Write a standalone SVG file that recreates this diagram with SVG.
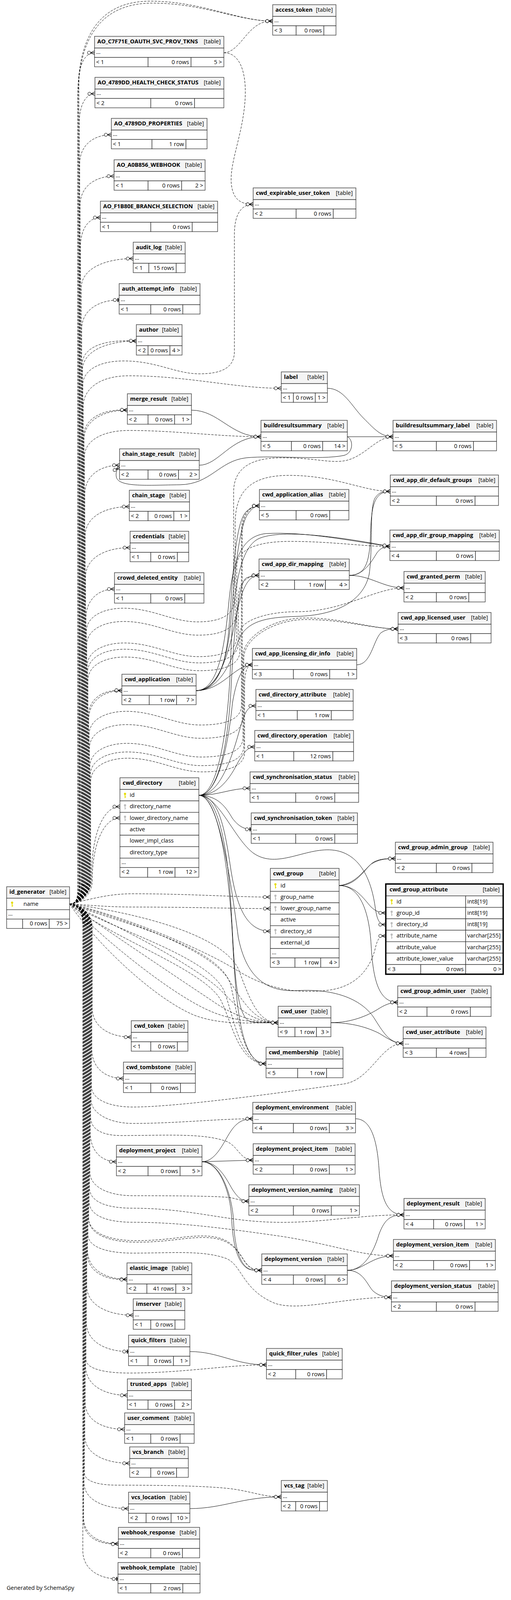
<svg xmlns="http://www.w3.org/2000/svg" xmlns:xlink="http://www.w3.org/1999/xlink" width="1308" height="4280" viewBox="0 0 1308 4280">
<style>
text{font-family:"Open Sans","Noto Sans","DejaVu Sans",sans-serif;font-size:14.5px;fill:#000}
.b{font-weight:700}
.r{text-anchor:end}
.h{fill:#f4f4f4;stroke:#333;stroke-width:1.3}
.c{fill:#fff;stroke:#333;stroke-width:1.3}
.l{fill:none;stroke:#000;stroke-width:1}
.d{stroke-dasharray:6 3}
.m{marker-end:url(#cm)}
.o{marker-end:url(#to)}
</style>
<defs>
<marker id="cm" markerUnits="userSpaceOnUse" markerWidth="22" markerHeight="14" viewBox="-1 -7 22 14" refX="19" refY="0" orient="auto">
<path d="M9,0L19,-5M9,0L19,0M9,0L19,5" fill="none" stroke="#000" stroke-width="1.2" stroke-dasharray="none"/>
<circle cx="5" cy="0" r="4" fill="#fff" stroke="#000" stroke-width="1.1" stroke-dasharray="none"/>
</marker>
<marker id="to" markerUnits="userSpaceOnUse" markerWidth="22" markerHeight="14" viewBox="-1 -7 22 14" refX="19" refY="0" orient="auto">
<path d="M12,0L19,0" fill="none" stroke="#000" stroke-width="1" stroke-dasharray="none"/>
<path d="M16,-5L16,5" fill="none" stroke="#000" stroke-width="2.5" stroke-dasharray="none"/>
<circle cx="8" cy="0" r="4" fill="#fff" stroke="#000" stroke-width="1.1" stroke-dasharray="none"/>
</marker>
<g id="key"><circle cx="0" cy="3.2" r="2.8"/><rect x="-1" y="5" width="2" height="9"/><rect x="0.5" y="10.5" width="2.2" height="1.5"/></g>
</defs>
<rect x="0" y="0" width="1308" height="4280" fill="#fff"/>

<g id="connectors">
<path class="l d m" d="M178,2314 C200,2314 200,2292 200,2255 L200,250 C200,60 290,8 390,8 C520,8 610,54 698,54"/>
<path class="l d m" d="M178,2314 C200,2314 199,2292 199,2255 L199,250 C199,55 285,3 385,3 C515,3 610,54 698,54"/>
<path class="l d m" d="M178,2314 C200,2314 202,2292 202,2255 L202,210 C202,161 220,135 242,135"/>
<path class="l d m" d="M178,2314 C200,2314 203,2292 203,2255 L203,315 C203,266 221,240 243,240"/>
<path class="l d m" d="M178,2314 C200,2314 204,2292 204,2255 L204,420 C204,371 240,345 285,345"/>
<path class="l d m" d="M178,2314 C200,2314 205,2292 205,2255 L205,526 C205,477 244,451 292,451"/>
<path class="l d m" d="M178,2314 C200,2314 206,2292 206,2255 L206,632 C206,583 229,557 257,557"/>
<path class="l d m" d="M178,2314 C200,2314 208,2292 208,2255 L208,737 C208,688 268,662 341,662"/>
<path class="l d o" d="M178,2314 C200,2314 209,2292 209,2255 L209,843 C209,794 252,768 305,768"/>
<path class="l d m" d="M178,2314 C200,2314 211,2292 211,2255 L211,948 C211,899 273,873 349,873"/>
<path class="l d m" d="M178,2314 C200,2314 210,2292 210,2255 L210,935 C210,890 262,868 349,873"/>
<path class="l d m" d="M178,2314 C200,2314 212,2292 212,2255 L212,985 C212,950 250,924 317,924 C400,924 450,957 510,957 C570,957 600,940 600,900 L600,600 C600,545 620,523 648,523"/>
<path class="l d m" d="M178,2314 C200,2314 213,2292 213,2255 L213,1040 C213,998 252,962 330,962 C480,962 600,994 720,994"/>
<path class="l d m" d="M178,2314 C200,2314 215,2292 215,2255 L215,1125 C215,1076 265,1050 326,1050"/>
<path class="l d m" d="M178,2314 C200,2314 214,2292 214,2255 L214,1118 C214,1072 262,1046 326,1050"/>
<path class="l d m" d="M178,2314 C200,2314 216,2292 216,2255 L216,1170 C216,1128 262,1102 330,1102 C450,1102 560,1118 668,1118"/>
<path class="l d m" d="M178,2314 C200,2314 217,2292 217,2255 L217,1266 C217,1217 257,1191 306,1191"/>
<path class="l d m" d="M178,2314 C200,2314 218,2292 218,2255 L218,1372 C218,1323 269,1297 331,1297"/>
<path class="l d m" d="M178,2314 C200,2314 219,2292 219,2255 L219,1477 C219,1428 270,1402 333,1402"/>
<path class="l d m" d="M178,2314 C200,2314 220,2292 220,2255 L220,1583 C220,1534 253,1508 293,1508"/>
<path class="l d m" d="M178,2314 C200,2314 221,2292 221,2255 L221,1617 C221,1577 266,1557 316,1557 C391,1557 441,1592 506,1592 C568,1592 598,1572 598,1542 L598,1260 C598,1200 640,1172 720,1172 C800,1172 830,1183 870,1181 C930,1178 960,1118 1006,1118"/>
<path class="l d m" d="M178,2314 C200,2314 222,2292 222,2255 L222,1651 C222,1611 267,1591 317,1591 C392,1591 442,1626 507,1626 C572,1626 602,1606 602,1576 L602,1340 C602,1250 650,1217 740,1217 C860,1217 930,1258 999,1258"/>
<path class="l d m" d="M178,2314 C200,2314 223,2292 223,2255 L223,1706 C223,1666 268,1646 318,1646 C393,1646 443,1681 508,1681 C576,1681 606,1661 606,1631 L606,1450 C606,1410 650,1386 742,1386 C850,1386 930,1399 998,1399"/>
<path class="l d m" d="M178,2314 C200,2314 224,2292 224,2255 L224,1722 C224,1682 269,1662 319,1662 C394,1662 444,1697 509,1697 C580,1697 610,1677 610,1647 L610,1530 C610,1495 630,1473 663,1473"/>
<path class="l d m" d="M178,2314 C200,2314 225,2292 225,2255 L225,1742 C225,1702 270,1682 320,1682 C395,1682 445,1717 510,1717 C584,1717 614,1697 614,1667 L614,1620 C614,1590 680,1566 760,1566 C880,1566 960,1505 1034,1505"/>
<path class="l d m" d="M178,2314 C200,2314 227,2292 227,2255 L227,1843 C227,1794 265,1768 312,1768"/>
<path class="l d m" d="M178,2314 C200,2314 226,2292 226,2255 L226,1836 C226,1790 262,1764 312,1768"/>
<path class="l d m" d="M178,2314 C200,2314 228,2292 228,2255 L228,1881 C228,1841 273,1821 323,1821 C398,1821 448,1856 513,1856 C588,1856 618,1836 618,1806 L618,1360 C618,1320 635,1295 664,1295"/>
<path class="l d m" d="M178,2314 C200,2314 229,2292 229,2255 L229,1915 C229,1875 274,1855 324,1855 C399,1855 449,1890 514,1890 C590,1890 620,1870 620,1840 L620,1365 C620,1322 637,1295 664,1295"/>
<path class="l d m" d="M178,2314 C200,2314 230,2292 230,2255 L230,1963 C230,1923 275,1903 325,1903 C400,1903 450,1938 515,1938 C592,1938 622,1918 622,1888 L622,1680 C622,1630 700,1582 780,1582 C880,1582 950,1610 1019,1610"/>
<path class="l d m" d="M178,2314 C200,2314 231,2292 231,2255 L231,1985 C231,1945 276,1925 326,1925 C401,1925 451,1960 516,1960 C594,1960 624,1940 624,1910 L624,1685 C624,1634 702,1586 782,1586 C882,1586 952,1610 1019,1610"/>
<path class="l d m" d="M178,2314 C200,2314 232,2292 232,2255 L232,2001 C232,1961 277,1941 327,1941 C402,1941 452,1976 517,1976 C596,1976 626,1956 626,1926 L626,1760 C626,1720 632,1702 646,1702"/>
<path class="l d m" d="M178,2314 C203,2314 234,2290 234,2250 C234,2140 262,2065 307,2065"/>
<path class="l d m" d="M178,2314 C205,2314 236,2292 236,2255 C236,2160 266,2094 307,2094"/>
<path class="l d m" d="M178,2314 C200,2314 236,2336 236,2373 L236,2580 C236,2629 281,2655 336,2655"/>
<path class="l d m" d="M178,2314 C200,2314 235,2336 235,2373 L235,2686 C235,2735 271,2761 316,2761"/>
<path class="l d m" d="M178,2314 C200,2314 234,2336 234,2373 L234,2780 C234,2815 280,2834 340,2834 C450,2834 700,2800 880,2775 C950,2765 975,2671 1032,2671"/>
<path class="l d m" d="M178,2314 C200,2314 233,2336 233,2373 L233,2815 C233,2850 280,2876 340,2876 C450,2876 560,2864 647,2864"/>
<path class="l d m" d="M178,2314 C200,2314 232,2336 232,2373 L232,2860 C232,2890 260,2907 310,2907 C420,2907 520,2900 580,2922 C610,2935 615,2970 648,2970"/>
<path class="l d m" d="M178,2314 C200,2314 231,2336 231,2373 L231,2899 C231,2948 261,2974 298,2974"/>
<path class="l d m" d="M178,2314 C200,2314 230,2336 230,2373 L230,3000 C230,3040 280,3061 340,3061 C460,3061 560,3062 590,3066 C610,3070 620,3075 637,3075"/>
<path class="l d m" d="M178,2314 C200,2314 229,2336 229,2373 L229,3040 C229,3080 280,3093 340,3093 C470,3093 560,3120 660,3127 C800,3137 900,3110 1034,3110"/>
<path class="l d m" d="M178,2314 C200,2314 228,2336 228,2373 L228,3075 C228,3115 280,3129 340,3129 C470,3129 600,3148 720,3165 C850,3185 920,3215 1007,3215"/>
<path class="l d m" d="M178,2314 C200,2314 227,2336 227,2373 L227,3120 C227,3160 280,3180 350,3180 C430,3180 470,3168 520,3168 C580,3168 600,3190 620,3220 C635,3245 645,3252 670,3252"/>
<path class="l d m" d="M178,2314 C200,2314 226,2336 226,2373 L226,3115 C226,3156 278,3176 348,3176 C428,3176 468,3164 518,3164 C578,3164 598,3186 618,3216 C633,3241 643,3252 670,3252"/>
<path class="l d m" d="M178,2314 C200,2314 225,2336 225,2373 L225,3160 C225,3195 280,3208 340,3208 C440,3208 520,3200 580,3222 C620,3240 620,3300 700,3335 C760,3360 880,3321 1002,3321"/>
<path class="l d m" d="M178,2314 C200,2314 224,2336 224,2373 L224,3200 C224,3249 269,3275 325,3275"/>
<path class="l d m" d="M178,2314 C200,2314 223,2336 223,2373 L223,3207 C223,3253 266,3279 325,3275"/>
<path class="l d m" d="M178,2314 C200,2314 222,2336 222,2373 L222,3292 C222,3341 276,3367 341,3367"/>
<path class="l d o" d="M178,2314 C200,2314 221,2336 221,2373 L221,3385 C221,3434 270,3460 329,3460"/>
<path class="l d m" d="M178,2314 C200,2314 220,2336 220,2373 L220,3480 C220,3505 270,3515 330,3515 C470,3515 580,3494 682,3494"/>
<path class="l d m" d="M178,2314 C200,2314 219,2336 219,2373 L219,3497 C219,3546 267,3572 326,3572"/>
<path class="l d m" d="M178,2314 C200,2314 218,2336 218,2373 L218,3590 C218,3636 263,3659 319,3659"/>
<path class="l d m" d="M178,2314 C200,2314 217,2336 217,2373 L217,3676 C217,3722 269,3746 332,3746"/>
<path class="l d m" d="M178,2314 C200,2314 216,2336 216,2373 L216,3770 C216,3792 250,3802 300,3802 C420,3802 520,3804 580,3810 C640,3816 670,3832 720,3832"/>
<path class="l d m" d="M178,2314 C200,2314 215,2336 215,2373 L215,3795 C215,3840 266,3862 329,3862"/>
<path class="l d m" d="M178,2314 C200,2314 214,2336 214,2373 L214,3885 C214,3930 254,3952 303,3952"/>
<path class="l d m" d="M178,2314 C200,2314 213,2336 213,2373 L213,3890 C213,3933 251,3956 303,3952"/>
<path class="l d o" d="M178,2314 C200,2314 212,2336 212,2373 L212,3970 C212,4016 252,4042 302,4042"/>
<path class="l d m" d="M178,2314 C240,2300 280,2288 340,2288 C480,2288 600,2296.5 692,2296.5"/>
<path class="l d m" d="M178,2314 C240,2318 280,2322 340,2322 C480,2322 600,2326 692,2326"/>
<path class="l d m" d="M178,2314 C300,2340 500,2420 600,2480 C680,2530 750,2545 840,2535 C920,2525 950,2470 960,2430 C966,2405 970,2396 987.5,2396"/>
<path class="l d m" d="M178,2314 C300,2330 560,2380 610,2480 C640,2560 660,2618 712,2618"/>
<path class="l d m" d="M178,2314 C290,2345 520,2420 580,2500 C620,2560 650,2618 712,2618"/>
<path class="l d m" d="M178,2314 C280,2360 480,2460 560,2530 C600,2570 640,2618 712,2618"/>
<path class="l d m" d="M178,2314 C270,2380 450,2500 540,2560 C590,2595 640,2618 712,2618"/>
<path class="l d m" d="M178,2314 C260,2400 420,2530 520,2580 C580,2610 640,2618 712,2618"/>
<path class="l d m" d="M178,2314 C250,2420 400,2560 500,2600 C570,2625 640,2618 712,2618"/>
<path class="l d m" d="M178,2314 C300,2360 560,2420 590,2520 C610,2600 620,2723 681,2723"/>
<path class="l d m" d="M178,2314 C290,2380 540,2450 575,2540 C600,2610 615,2723 681,2723"/>
<path class="l d m" d="M178,2314 C280,2400 520,2480 565,2560 C595,2620 610,2723 681,2723"/>
<path class="l d m" d="M573,135 C600,135 620,100 640,80 C660,60 675,54 698,54"/>
<path class="l d m" d="M573,135 C620,135 635,200 625,280 C615,360 588,420 592,470 C596,510 615,523 648,523"/>
<path class="l m" d="M490,1050 C560,1050 590,1118 668,1118"/>
<path class="l m" d="M510,1191 C560,1191 590,1118 668,1118"/>
<path class="l m" d="M889,1118 L1006,1118"/>
<path class="l m" d="M838,994 C880,994 900,1040 930,1070 C960,1100 975,1118 1006,1118"/>
<path class="l m" d="M889,1118 C905,1125 905,1160 880,1166 C820,1178 700,1165 630,1172 C560,1180 540,1240 460,1241 C380,1242 305,1248 298,1222 C295,1210 300,1200 306,1197"/>
<path class="l m" d="M502,1768 C550,1768 575,1720 585,1620 C595,1500 600,1340 630,1310 C640,1300 650,1295 664,1295"/>
<path class="l m" d="M502,1768 C555,1766 580,1700 590,1600 C600,1480 610,1350 635,1315 C645,1302 652,1295 664,1295"/>
<path class="l m" d="M502,1768 C560,1768 575,1650 585,1550 C595,1440 615,1373 680,1366 C780,1360 900,1385 998,1399"/>
<path class="l m" d="M502,1768 C550,1768 580,1700 600,1600 C615,1520 630,1473 663,1473"/>
<path class="l m" d="M502,1768 C560,1768 590,1700 610,1640 C630,1590 680,1580 760,1578 C860,1575 930,1540 945,1470 C955,1400 945,1300 960,1275 C970,1260 980,1258 999,1258"/>
<path class="l m" d="M502,1768 C570,1768 600,1702 646,1702"/>
<path class="l m" d="M894,1473 C930,1473 950,1440 965,1415 C975,1402 985,1399 998,1399"/>
<path class="l m" d="M894,1473 C935,1473 945,1440 948,1380 C950,1300 955,1258 999,1258"/>
<path class="l m" d="M894,1473 C950,1473 980,1505 1034,1505"/>
<path class="l m" d="M913,1702 C950,1702 955,1640 975,1620 C990,1610 1000,1610 1019,1610"/>
<path class="l m" d="M509,2036 C560,2036 590,1950 610,1880 C625,1830 630,1807 655,1807"/>
<path class="l m" d="M509,2036 C560,2036 590,1990 610,1950 C625,1925 635,1912 652,1912"/>
<path class="l m" d="M509,2036 C560,2036 590,2018 640,2018"/>
<path class="l o" d="M509,2036 C560,2036 580,2070 595,2095 C610,2115 625,2123 643,2123"/>
<path class="l m" d="M509,2036 C560,2036 575,2120 590,2220 C605,2320 630,2384 692,2384"/>
<path class="l m" d="M509,2036 C560,2036 600,2150 650,2185 C710,2225 780,2170 850,2176 C920,2182 950,2250 960,2320 C965,2355 970,2367 987.5,2367"/>
<path class="l m" d="M509,2036 C555,2036 580,2150 590,2300 C600,2450 600,2600 640,2615 C660,2620 690,2618 712,2618"/>
<path class="l m" d="M509,2036 C555,2036 585,2200 595,2400 C605,2600 620,2723 681,2723"/>
<path class="l m" d="M509,2036 C560,2036 590,2250 610,2400 C630,2500 680,2540 760,2536 C860,2530 930,2560 960,2610 C985,2650 1000,2671 1032,2671"/>
<path class="l m" d="M509,2036 C560,2036 585,1900 592,1750 C600,1600 612,1490 630,1480 C640,1475 650,1473 663,1473"/>
<path class="l m" d="M509,2036 C560,2036 585,1900 595,1800 C605,1740 620,1702 646,1702"/>
<path class="l m" d="M509,2036 C560,2036 585,1850 590,1700 C595,1550 605,1410 660,1380 C720,1350 900,1380 998,1399"/>
<path class="l m" d="M868,2267 C910,2267 930,2230 950,2212 C970,2200 985,2198 1012,2198"/>
<path class="l m" d="M868,2267 C915,2262 935,2220 958,2206 C975,2198 990,2198 1012,2198"/>
<path class="l m" d="M868,2267 C910,2267 930,2300 950,2322 C962,2333 972,2337 987.5,2337"/>
<path class="l m" d="M868,2267 C920,2267 945,2330 950,2420 C955,2510 970,2566 1018,2566"/>
<path class="l m" d="M847,2618 C900,2618 940,2630 970,2645 C995,2660 1010,2671 1032,2671"/>
<path class="l m" d="M847,2618 C900,2618 940,2600 965,2585 C985,2572 1000,2566 1018,2566"/>
<path class="l m" d="M517,2974 C550,2974 570,2930 585,2905 C600,2880 615,2864 647,2864"/>
<path class="l m" d="M517,2974 L648,2970"/>
<path class="l m" d="M517,2974 C560,2974 580,3020 595,3045 C610,3068 620,3075 637,3075"/>
<path class="l m" d="M517,2974 C560,2974 590,3050 593,3120 C596,3190 610,3240 640,3250 C650,3252 660,3252 670,3252"/>
<path class="l m" d="M517,2974 C565,2974 595,3060 598,3130 C601,3195 615,3245 645,3251 C655,3252 662,3252 670,3252"/>
<path class="l m" d="M910,2864 C950,2864 965,2920 970,2990 C975,3070 990,3110 1034,3110"/>
<path class="l m" d="M889,3252 C930,3252 950,3215 1007,3215"/>
<path class="l m" d="M889,3252 C930,3252 940,3290 955,3305 C970,3318 985,3321 1002,3321"/>
<path class="l m" d="M889,3252 C930,3252 955,3210 970,3160 C985,3120 1000,3110 1034,3110"/>
<path class="l m" d="M486,3460 C560,3460 600,3494 682,3494"/>
<path class="l m" d="M486,3862 C570,3862 620,3832 720,3832"/>
</g>

<g id="access_token"><rect class="h" x="698" y="12" width="162" height="30"/><text class="b" x="705" y="30">access_token</text><text class="r" x="852" y="30">[table]</text><rect class="c" x="698" y="42" width="162" height="24"/><text x="702" y="57">...</text><rect class="c" x="698" y="66" width="60" height="24"/><rect class="c" x="758" y="66" width="71" height="24"/><rect class="c" x="829" y="66" width="31" height="24"/><text x="702" y="82.5">&lt; 3</text><text class="r" x="824" y="82.5">0 rows</text></g>
<g id="AO_C7F71E_OAUTH_SVC_PROV_TKNS"><rect class="h" x="242" y="93" width="331" height="30"/><text class="b" x="249" y="111">AO_C7F71E_OAUTH_SVC_PROV_TKNS</text><text class="r" x="565" y="111">[table]</text><rect class="c" x="242" y="123" width="331" height="24"/><text x="246" y="138">...</text><rect class="c" x="242" y="147" width="137" height="24"/><rect class="c" x="379" y="147" width="110" height="24"/><rect class="c" x="489" y="147" width="84" height="24"/><text x="246" y="163.5">&lt; 1</text><text class="r" x="484" y="163.5">0 rows</text><text class="r" x="568" y="163.5">5 &gt;</text></g>
<g id="AO_4789DD_HEALTH_CHECK_STATUS"><rect class="h" x="243" y="198" width="330" height="30"/><text class="b" x="250" y="216">AO_4789DD_HEALTH_CHECK_STATUS</text><text class="r" x="565" y="216">[table]</text><rect class="c" x="243" y="228" width="330" height="24"/><text x="247" y="243">...</text><rect class="c" x="243" y="252" width="143" height="24"/><rect class="c" x="386" y="252" width="112" height="24"/><rect class="c" x="498" y="252" width="75" height="24"/><text x="247" y="268.5">&lt; 2</text><text class="r" x="493" y="268.5">0 rows</text></g>
<g id="AO_4789DD_PROPERTIES"><rect class="h" x="285" y="303" width="245" height="30"/><text class="b" x="292" y="321">AO_4789DD_PROPERTIES</text><text class="r" x="522" y="321">[table]</text><rect class="c" x="285" y="333" width="245" height="24"/><text x="289" y="348">...</text><rect class="c" x="285" y="357" width="104" height="24"/><rect class="c" x="389" y="357" width="87" height="24"/><rect class="c" x="476" y="357" width="54" height="24"/><text x="289" y="373.5">&lt; 1</text><text class="r" x="471" y="373.5">1 row</text></g>
<g id="AO_A0B856_WEBHOOK"><rect class="h" x="292" y="409" width="233" height="30"/><text class="b" x="299" y="427">AO_A0B856_WEBHOOK</text><text class="r" x="517" y="427">[table]</text><rect class="c" x="292" y="439" width="233" height="24"/><text x="296" y="454">...</text><rect class="c" x="292" y="463" width="87" height="24"/><rect class="c" x="379" y="463" width="86" height="24"/><rect class="c" x="465" y="463" width="60" height="24"/><text x="296" y="479.5">&lt; 1</text><text class="r" x="460" y="479.5">0 rows</text><text class="r" x="520" y="479.5">2 &gt;</text></g>
<g id="AO_F1B80E_BRANCH_SELECTION"><rect class="h" x="257" y="515" width="300" height="30"/><text class="b" x="264" y="533">AO_F1B80E_BRANCH_SELECTION</text><text class="r" x="549" y="533">[table]</text><rect class="c" x="257" y="545" width="300" height="24"/><text x="261" y="560">...</text><rect class="c" x="257" y="569" width="129" height="24"/><rect class="c" x="386" y="569" width="106" height="24"/><rect class="c" x="492" y="569" width="65" height="24"/><text x="261" y="585.5">&lt; 1</text><text class="r" x="487" y="585.5">0 rows</text></g>
<g id="audit_log"><rect class="h" x="341" y="620" width="133" height="30"/><text class="b" x="348" y="638">audit_log</text><text class="r" x="466" y="638">[table]</text><rect class="c" x="341" y="650" width="133" height="24"/><text x="345" y="665">...</text><rect class="c" x="341" y="674" width="40" height="24"/><rect class="c" x="381" y="674" width="70" height="24"/><rect class="c" x="451" y="674" width="23" height="24"/><text x="345" y="690.5">&lt; 1</text><text class="r" x="446" y="690.5">15 rows</text></g>
<g id="cwd_expirable_user_token"><rect class="h" x="648" y="481" width="263" height="30"/><text class="b" x="655" y="499">cwd_expirable_user_token</text><text class="r" x="903" y="499">[table]</text><rect class="c" x="648" y="511" width="263" height="24"/><text x="652" y="526">...</text><rect class="c" x="648" y="535" width="110" height="24"/><rect class="c" x="758" y="535" width="95" height="24"/><rect class="c" x="853" y="535" width="58" height="24"/><text x="652" y="551.5">&lt; 2</text><text class="r" x="848" y="551.5">0 rows</text></g>
<g id="auth_attempt_info"><rect class="h" x="305" y="726" width="207" height="30"/><text class="b" x="312" y="744">auth_attempt_info</text><text class="r" x="504" y="744">[table]</text><rect class="c" x="305" y="756" width="207" height="24"/><text x="309" y="771">...</text><rect class="c" x="305" y="780" width="81" height="24"/><rect class="c" x="386" y="780" width="82" height="24"/><rect class="c" x="468" y="780" width="44" height="24"/><text x="309" y="796.5">&lt; 1</text><text class="r" x="463" y="796.5">0 rows</text></g>
<g id="author"><rect class="h" x="349" y="831" width="117" height="30"/><text class="b" x="356" y="849">author</text><text class="r" x="458" y="849">[table]</text><rect class="c" x="349" y="861" width="117" height="24"/><text x="353" y="876">...</text><rect class="c" x="349" y="885" width="30" height="24"/><rect class="c" x="379" y="885" width="56" height="24"/><rect class="c" x="435" y="885" width="31" height="24"/><text x="353" y="901.5">&lt; 2</text><text class="r" x="430" y="901.5">0 rows</text><text class="r" x="461" y="901.5">4 &gt;</text></g>
<g id="label"><rect class="h" x="720" y="952" width="118" height="30"/><text class="b" x="727" y="970">label</text><text class="r" x="830" y="970">[table]</text><rect class="c" x="720" y="982" width="118" height="24"/><text x="724" y="997">...</text><rect class="c" x="720" y="1006" width="31" height="24"/><rect class="c" x="751" y="1006" width="56" height="24"/><rect class="c" x="807" y="1006" width="31" height="24"/><text x="724" y="1022.5">&lt; 1</text><text class="r" x="802" y="1022.5">0 rows</text><text class="r" x="833" y="1022.5">1 &gt;</text></g>
<g id="merge_result"><rect class="h" x="326" y="1008" width="164" height="30"/><text class="b" x="333" y="1026">merge_result</text><text class="r" x="482" y="1026">[table]</text><rect class="c" x="326" y="1038" width="164" height="24"/><text x="330" y="1053">...</text><rect class="c" x="326" y="1062" width="53" height="24"/><rect class="c" x="379" y="1062" width="68" height="24"/><rect class="c" x="447" y="1062" width="43" height="24"/><text x="330" y="1078.5">&lt; 2</text><text class="r" x="442" y="1078.5">0 rows</text><text class="r" x="485" y="1078.5">1 &gt;</text></g>
<g id="buildresultsummary"><rect class="h" x="668" y="1076" width="221" height="30"/><text class="b" x="675" y="1094">buildresultsummary</text><text class="r" x="881" y="1094">[table]</text><rect class="c" x="668" y="1106" width="221" height="24"/><text x="672" y="1121">...</text><rect class="c" x="668" y="1130" width="78" height="24"/><rect class="c" x="746" y="1130" width="80" height="24"/><rect class="c" x="826" y="1130" width="63" height="24"/><text x="672" y="1146.5">&lt; 5</text><text class="r" x="821" y="1146.5">0 rows</text><text class="r" x="884" y="1146.5">14 &gt;</text></g>
<g id="buildresultsummary_label"><rect class="h" x="1006" y="1076" width="265" height="30"/><text class="b" x="1013" y="1094">buildresultsummary_label</text><text class="r" x="1263" y="1094">[table]</text><rect class="c" x="1006" y="1106" width="265" height="24"/><text x="1010" y="1121">...</text><rect class="c" x="1006" y="1130" width="111" height="24"/><rect class="c" x="1117" y="1130" width="95" height="24"/><rect class="c" x="1212" y="1130" width="59" height="24"/><text x="1010" y="1146.5">&lt; 5</text><text class="r" x="1207" y="1146.5">0 rows</text></g>
<g id="chain_stage_result"><rect class="h" x="306" y="1149" width="204" height="30"/><text class="b" x="313" y="1167">chain_stage_result</text><text class="r" x="502" y="1167">[table]</text><rect class="c" x="306" y="1179" width="204" height="24"/><text x="310" y="1194">...</text><rect class="c" x="306" y="1203" width="73" height="24"/><rect class="c" x="379" y="1203" width="78" height="24"/><rect class="c" x="457" y="1203" width="53" height="24"/><text x="310" y="1219.5">&lt; 2</text><text class="r" x="452" y="1219.5">0 rows</text><text class="r" x="505" y="1219.5">2 &gt;</text></g>
<g id="cwd_app_dir_default_groups"><rect class="h" x="999" y="1216" width="277" height="30"/><text class="b" x="1006" y="1234">cwd_app_dir_default_groups</text><text class="r" x="1268" y="1234">[table]</text><rect class="c" x="999" y="1246" width="277" height="24"/><text x="1003" y="1261">...</text><rect class="c" x="999" y="1270" width="118" height="24"/><rect class="c" x="1117" y="1270" width="99" height="24"/><rect class="c" x="1216" y="1270" width="60" height="24"/><text x="1003" y="1286.5">&lt; 2</text><text class="r" x="1211" y="1286.5">0 rows</text></g>
<g id="cwd_application_alias"><rect class="h" x="664" y="1253" width="229" height="30"/><text class="b" x="671" y="1271">cwd_application_alias</text><text class="r" x="885" y="1271">[table]</text><rect class="c" x="664" y="1283" width="229" height="24"/><text x="668" y="1298">...</text><rect class="c" x="664" y="1307" width="94" height="24"/><rect class="c" x="758" y="1307" width="86" height="24"/><rect class="c" x="844" y="1307" width="49" height="24"/><text x="668" y="1323.5">&lt; 5</text><text class="r" x="839" y="1323.5">0 rows</text></g>
<g id="chain_stage"><rect class="h" x="331" y="1255" width="154" height="30"/><text class="b" x="338" y="1273">chain_stage</text><text class="r" x="477" y="1273">[table]</text><rect class="c" x="331" y="1285" width="154" height="24"/><text x="335" y="1300">...</text><rect class="c" x="331" y="1309" width="48" height="24"/><rect class="c" x="379" y="1309" width="66" height="24"/><rect class="c" x="445" y="1309" width="40" height="24"/><text x="335" y="1325.5">&lt; 2</text><text class="r" x="440" y="1325.5">0 rows</text><text class="r" x="480" y="1325.5">1 &gt;</text></g>
<g id="cwd_app_dir_group_mapping"><rect class="h" x="998" y="1357" width="280" height="30"/><text class="b" x="1005" y="1375">cwd_app_dir_group_mapping</text><text class="r" x="1270" y="1375">[table]</text><rect class="c" x="998" y="1387" width="280" height="24"/><text x="1002" y="1402">...</text><rect class="c" x="998" y="1411" width="119" height="24"/><rect class="c" x="1117" y="1411" width="100" height="24"/><rect class="c" x="1217" y="1411" width="61" height="24"/><text x="1002" y="1427.5">&lt; 4</text><text class="r" x="1212" y="1427.5">0 rows</text></g>
<g id="credentials"><rect class="h" x="333" y="1360" width="150" height="30"/><text class="b" x="340" y="1378">credentials</text><text class="r" x="475" y="1378">[table]</text><rect class="c" x="333" y="1390" width="150" height="24"/><text x="337" y="1405">...</text><rect class="c" x="333" y="1414" width="53" height="24"/><rect class="c" x="386" y="1414" width="68" height="24"/><rect class="c" x="454" y="1414" width="29" height="24"/><text x="337" y="1430.5">&lt; 1</text><text class="r" x="449" y="1430.5">0 rows</text></g>
<g id="cwd_app_dir_mapping"><rect class="h" x="663" y="1431" width="231" height="30"/><text class="b" x="670" y="1449">cwd_app_dir_mapping</text><text class="r" x="886" y="1449">[table]</text><rect class="c" x="663" y="1461" width="231" height="24"/><text x="667" y="1476">...</text><rect class="c" x="663" y="1485" width="91" height="24"/><rect class="c" x="754" y="1485" width="79" height="24"/><rect class="c" x="833" y="1485" width="61" height="24"/><text x="667" y="1501.5">&lt; 2</text><text class="r" x="828" y="1501.5">1 row</text><text class="r" x="889" y="1501.5">4 &gt;</text></g>
<g id="cwd_granted_perm"><rect class="h" x="1034" y="1463" width="208" height="30"/><text class="b" x="1041" y="1481">cwd_granted_perm</text><text class="r" x="1234" y="1481">[table]</text><rect class="c" x="1034" y="1493" width="208" height="24"/><text x="1038" y="1508">...</text><rect class="c" x="1034" y="1517" width="83" height="24"/><rect class="c" x="1117" y="1517" width="83" height="24"/><rect class="c" x="1200" y="1517" width="42" height="24"/><text x="1038" y="1533.5">&lt; 2</text><text class="r" x="1195" y="1533.5">0 rows</text></g>
<g id="crowd_deleted_entity"><rect class="h" x="293" y="1466" width="229" height="30"/><text class="b" x="300" y="1484">crowd_deleted_entity</text><text class="r" x="514" y="1484">[table]</text><rect class="c" x="293" y="1496" width="229" height="24"/><text x="297" y="1511">...</text><rect class="c" x="293" y="1520" width="93" height="24"/><rect class="c" x="386" y="1520" width="87" height="24"/><rect class="c" x="473" y="1520" width="49" height="24"/><text x="297" y="1536.5">&lt; 1</text><text class="r" x="468" y="1536.5">0 rows</text></g>
<g id="cwd_app_licensed_user"><rect class="h" x="1019" y="1568" width="238" height="30"/><text class="b" x="1026" y="1586">cwd_app_licensed_user</text><text class="r" x="1249" y="1586">[table]</text><rect class="c" x="1019" y="1598" width="238" height="24"/><text x="1023" y="1613">...</text><rect class="c" x="1019" y="1622" width="98" height="24"/><rect class="c" x="1117" y="1622" width="88" height="24"/><rect class="c" x="1205" y="1622" width="52" height="24"/><text x="1023" y="1638.5">&lt; 3</text><text class="r" x="1200" y="1638.5">0 rows</text></g>
<g id="cwd_app_licensing_dir_info"><rect class="h" x="646" y="1660" width="267" height="30"/><text class="b" x="653" y="1678">cwd_app_licensing_dir_info</text><text class="r" x="905" y="1678">[table]</text><rect class="c" x="646" y="1690" width="267" height="24"/><text x="650" y="1705">...</text><rect class="c" x="646" y="1714" width="105" height="24"/><rect class="c" x="751" y="1714" width="93" height="24"/><rect class="c" x="844" y="1714" width="69" height="24"/><text x="650" y="1730.5">&lt; 3</text><text class="r" x="839" y="1730.5">0 rows</text><text class="r" x="908" y="1730.5">1 &gt;</text></g>
<g id="cwd_application"><rect class="h" x="312" y="1726" width="190" height="30"/><text class="b" x="319" y="1744">cwd_application</text><text class="r" x="494" y="1744">[table]</text><rect class="c" x="312" y="1756" width="190" height="24"/><text x="316" y="1771">...</text><rect class="c" x="312" y="1780" width="70" height="24"/><rect class="c" x="382" y="1780" width="70" height="24"/><rect class="c" x="452" y="1780" width="50" height="24"/><text x="316" y="1796.5">&lt; 2</text><text class="r" x="447" y="1796.5">1 row</text><text class="r" x="497" y="1796.5">7 &gt;</text></g>
<g id="cwd_directory_attribute"><rect class="h" x="655" y="1765" width="249" height="30"/><text class="b" x="662" y="1783">cwd_directory_attribute</text><text class="r" x="896" y="1783">[table]</text><rect class="c" x="655" y="1795" width="249" height="24"/><text x="659" y="1810">...</text><rect class="c" x="655" y="1819" width="106" height="24"/><rect class="c" x="761" y="1819" width="87" height="24"/><rect class="c" x="848" y="1819" width="56" height="24"/><text x="659" y="1835.5">&lt; 1</text><text class="r" x="843" y="1835.5">1 row</text></g>
<g id="cwd_directory_operation"><rect class="h" x="652" y="1870" width="253" height="30"/><text class="b" x="659" y="1888">cwd_directory_operation</text><text class="r" x="897" y="1888">[table]</text><rect class="c" x="652" y="1900" width="253" height="24"/><text x="656" y="1915">...</text><rect class="c" x="652" y="1924" width="100" height="24"/><rect class="c" x="752" y="1924" width="100" height="24"/><rect class="c" x="852" y="1924" width="53" height="24"/><text x="656" y="1940.5">&lt; 1</text><text class="r" x="847" y="1940.5">12 rows</text></g>
<g id="cwd_synchronisation_status"><rect class="h" x="640" y="1976" width="278" height="30"/><text class="b" x="647" y="1994">cwd_synchronisation_status</text><text class="r" x="910" y="1994">[table]</text><rect class="c" x="640" y="2006" width="278" height="24"/><text x="644" y="2021">...</text><rect class="c" x="640" y="2030" width="117" height="24"/><rect class="c" x="757" y="2030" width="100" height="24"/><rect class="c" x="857" y="2030" width="61" height="24"/><text x="644" y="2046.5">&lt; 1</text><text class="r" x="852" y="2046.5">0 rows</text></g>
<g id="cwd_synchronisation_token"><rect class="h" x="643" y="2081" width="272" height="30"/><text class="b" x="650" y="2099">cwd_synchronisation_token</text><text class="r" x="907" y="2099">[table]</text><rect class="c" x="643" y="2111" width="272" height="24"/><text x="647" y="2126">...</text><rect class="c" x="643" y="2135" width="114" height="24"/><rect class="c" x="757" y="2135" width="100" height="24"/><rect class="c" x="857" y="2135" width="58" height="24"/><text x="647" y="2151.5">&lt; 1</text><text class="r" x="852" y="2151.5">0 rows</text></g>
<g id="cwd_group_admin_group"><rect class="h" x="1012" y="2156" width="250" height="30"/><text class="b" x="1019" y="2174">cwd_group_admin_group</text><text class="r" x="1254" y="2174">[table]</text><rect class="c" x="1012" y="2186" width="250" height="24"/><text x="1016" y="2201">...</text><rect class="c" x="1012" y="2210" width="105" height="24"/><rect class="c" x="1117" y="2210" width="91" height="24"/><rect class="c" x="1208" y="2210" width="54" height="24"/><text x="1016" y="2226.5">&lt; 2</text><text class="r" x="1203" y="2226.5">0 rows</text></g>
<g id="cwd_group_admin_user"><rect class="h" x="1018" y="2524" width="239" height="30"/><text class="b" x="1025" y="2542">cwd_group_admin_user</text><text class="r" x="1249" y="2542">[table]</text><rect class="c" x="1018" y="2554" width="239" height="24"/><text x="1022" y="2569">...</text><rect class="c" x="1018" y="2578" width="75" height="24"/><rect class="c" x="1093" y="2578" width="111" height="24"/><rect class="c" x="1204" y="2578" width="53" height="24"/><text x="1022" y="2594.5">&lt; 2</text><text class="r" x="1199" y="2594.5">0 rows</text></g>
<g id="cwd_user"><rect class="h" x="712" y="2576" width="135" height="30"/><text class="b" x="719" y="2594">cwd_user</text><text class="r" x="839" y="2594">[table]</text><rect class="c" x="712" y="2606" width="135" height="24"/><text x="716" y="2621">...</text><rect class="c" x="712" y="2630" width="43" height="24"/><rect class="c" x="755" y="2630" width="55" height="24"/><rect class="c" x="810" y="2630" width="37" height="24"/><text x="716" y="2646.5">&lt; 9</text><text class="r" x="805" y="2646.5">1 row</text><text class="r" x="842" y="2646.5">3 &gt;</text></g>
<g id="cwd_token"><rect class="h" x="336" y="2613" width="145" height="30"/><text class="b" x="343" y="2631">cwd_token</text><text class="r" x="473" y="2631">[table]</text><rect class="c" x="336" y="2643" width="145" height="24"/><text x="340" y="2658">...</text><rect class="c" x="336" y="2667" width="50" height="24"/><rect class="c" x="386" y="2667" width="68" height="24"/><rect class="c" x="454" y="2667" width="27" height="24"/><text x="340" y="2683.5">&lt; 1</text><text class="r" x="449" y="2683.5">0 rows</text></g>
<g id="cwd_user_attribute"><rect class="h" x="1032" y="2629" width="212" height="30"/><text class="b" x="1039" y="2647">cwd_user_attribute</text><text class="r" x="1236" y="2647">[table]</text><rect class="c" x="1032" y="2659" width="212" height="24"/><text x="1036" y="2674">...</text><rect class="c" x="1032" y="2683" width="85" height="24"/><rect class="c" x="1117" y="2683" width="83" height="24"/><rect class="c" x="1200" y="2683" width="44" height="24"/><text x="1036" y="2699.5">&lt; 3</text><text class="r" x="1195" y="2699.5">4 rows</text></g>
<g id="cwd_membership"><rect class="h" x="681" y="2681" width="197" height="30"/><text class="b" x="688" y="2699">cwd_membership</text><text class="r" x="870" y="2699">[table]</text><rect class="c" x="681" y="2711" width="197" height="24"/><text x="685" y="2726">...</text><rect class="c" x="681" y="2735" width="81" height="24"/><rect class="c" x="762" y="2735" width="74" height="24"/><rect class="c" x="836" y="2735" width="42" height="24"/><text x="685" y="2751.5">&lt; 5</text><text class="r" x="831" y="2751.5">1 row</text></g>
<g id="cwd_tombstone"><rect class="h" x="316" y="2719" width="184" height="30"/><text class="b" x="323" y="2737">cwd_tombstone</text><text class="r" x="492" y="2737">[table]</text><rect class="c" x="316" y="2749" width="184" height="24"/><text x="320" y="2764">...</text><rect class="c" x="316" y="2773" width="70" height="24"/><rect class="c" x="386" y="2773" width="76" height="24"/><rect class="c" x="462" y="2773" width="38" height="24"/><text x="320" y="2789.5">&lt; 1</text><text class="r" x="457" y="2789.5">0 rows</text></g>
<g id="deployment_environment"><rect class="h" x="647" y="2822" width="263" height="30"/><text class="b" x="654" y="2840">deployment_environment</text><text class="r" x="902" y="2840">[table]</text><rect class="c" x="647" y="2852" width="263" height="24"/><text x="651" y="2867">...</text><rect class="c" x="647" y="2876" width="104" height="24"/><rect class="c" x="751" y="2876" width="92" height="24"/><rect class="c" x="843" y="2876" width="67" height="24"/><text x="651" y="2892.5">&lt; 4</text><text class="r" x="838" y="2892.5">0 rows</text><text class="r" x="905" y="2892.5">3 &gt;</text></g>
<g id="deployment_project_item"><rect class="h" x="648" y="2928" width="261" height="30"/><text class="b" x="655" y="2946">deployment_project_item</text><text class="r" x="901" y="2946">[table]</text><rect class="c" x="648" y="2958" width="261" height="24"/><text x="652" y="2973">...</text><rect class="c" x="648" y="2982" width="103" height="24"/><rect class="c" x="751" y="2982" width="92" height="24"/><rect class="c" x="843" y="2982" width="66" height="24"/><text x="652" y="2998.5">&lt; 2</text><text class="r" x="838" y="2998.5">0 rows</text><text class="r" x="904" y="2998.5">1 &gt;</text></g>
<g id="deployment_project"><rect class="h" x="298" y="2932" width="219" height="30"/><text class="b" x="305" y="2950">deployment_project</text><text class="r" x="509" y="2950">[table]</text><rect class="c" x="298" y="2962" width="219" height="24"/><text x="302" y="2977">...</text><rect class="c" x="298" y="2986" width="81" height="24"/><rect class="c" x="379" y="2986" width="82" height="24"/><rect class="c" x="461" y="2986" width="56" height="24"/><text x="302" y="3002.5">&lt; 2</text><text class="r" x="456" y="3002.5">0 rows</text><text class="r" x="512" y="3002.5">5 &gt;</text></g>
<g id="deployment_version_naming"><rect class="h" x="637" y="3033" width="283" height="30"/><text class="b" x="644" y="3051">deployment_version_naming</text><text class="r" x="912" y="3051">[table]</text><rect class="c" x="637" y="3063" width="283" height="24"/><text x="641" y="3078">...</text><rect class="c" x="637" y="3087" width="114" height="24"/><rect class="c" x="751" y="3087" width="97" height="24"/><rect class="c" x="848" y="3087" width="72" height="24"/><text x="641" y="3103.5">&lt; 2</text><text class="r" x="843" y="3103.5">0 rows</text><text class="r" x="915" y="3103.5">1 &gt;</text></g>
<g id="deployment_result"><rect class="h" x="1034" y="3068" width="208" height="30"/><text class="b" x="1041" y="3086">deployment_result</text><text class="r" x="1234" y="3086">[table]</text><rect class="c" x="1034" y="3098" width="208" height="24"/><text x="1038" y="3113">...</text><rect class="c" x="1034" y="3122" width="76" height="24"/><rect class="c" x="1110" y="3122" width="79" height="24"/><rect class="c" x="1189" y="3122" width="53" height="24"/><text x="1038" y="3138.5">&lt; 4</text><text class="r" x="1184" y="3138.5">0 rows</text><text class="r" x="1237" y="3138.5">1 &gt;</text></g>
<g id="deployment_version_item"><rect class="h" x="1007" y="3173" width="261" height="30"/><text class="b" x="1014" y="3191">deployment_version_item</text><text class="r" x="1260" y="3191">[table]</text><rect class="c" x="1007" y="3203" width="261" height="24"/><text x="1011" y="3218">...</text><rect class="c" x="1007" y="3227" width="103" height="24"/><rect class="c" x="1110" y="3227" width="92" height="24"/><rect class="c" x="1202" y="3227" width="66" height="24"/><text x="1011" y="3243.5">&lt; 2</text><text class="r" x="1197" y="3243.5">0 rows</text><text class="r" x="1263" y="3243.5">1 &gt;</text></g>
<g id="deployment_version"><rect class="h" x="670" y="3210" width="219" height="30"/><text class="b" x="677" y="3228">deployment_version</text><text class="r" x="881" y="3228">[table]</text><rect class="c" x="670" y="3240" width="219" height="24"/><text x="674" y="3255">...</text><rect class="c" x="670" y="3264" width="81" height="24"/><rect class="c" x="751" y="3264" width="81" height="24"/><rect class="c" x="832" y="3264" width="57" height="24"/><text x="674" y="3280.5">&lt; 4</text><text class="r" x="827" y="3280.5">0 rows</text><text class="r" x="884" y="3280.5">6 &gt;</text></g>
<g id="elastic_image"><rect class="h" x="325" y="3233" width="166" height="30"/><text class="b" x="332" y="3251">elastic_image</text><text class="r" x="483" y="3251">[table]</text><rect class="c" x="325" y="3263" width="166" height="24"/><text x="329" y="3278">...</text><rect class="c" x="325" y="3287" width="51" height="24"/><rect class="c" x="376" y="3287" width="74" height="24"/><rect class="c" x="450" y="3287" width="41" height="24"/><text x="329" y="3303.5">&lt; 2</text><text class="r" x="445" y="3303.5">41 rows</text><text class="r" x="486" y="3303.5">3 &gt;</text></g>
<g id="deployment_version_status"><rect class="h" x="1002" y="3279" width="273" height="30"/><text class="b" x="1009" y="3297">deployment_version_status</text><text class="r" x="1267" y="3297">[table]</text><rect class="c" x="1002" y="3309" width="273" height="24"/><text x="1006" y="3324">...</text><rect class="c" x="1002" y="3333" width="115" height="24"/><rect class="c" x="1117" y="3333" width="99" height="24"/><rect class="c" x="1216" y="3333" width="59" height="24"/><text x="1006" y="3349.5">&lt; 2</text><text class="r" x="1211" y="3349.5">0 rows</text></g>
<g id="imserver"><rect class="h" x="341" y="3325" width="132" height="30"/><text class="b" x="348" y="3343">imserver</text><text class="r" x="465" y="3343">[table]</text><rect class="c" x="341" y="3355" width="132" height="24"/><text x="345" y="3370">...</text><rect class="c" x="341" y="3379" width="45" height="24"/><rect class="c" x="386" y="3379" width="62" height="24"/><rect class="c" x="448" y="3379" width="25" height="24"/><text x="345" y="3395.5">&lt; 1</text><text class="r" x="443" y="3395.5">0 rows</text></g>
<g id="quick_filters"><rect class="h" x="329" y="3418" width="157" height="30"/><text class="b" x="336" y="3436">quick_filters</text><text class="r" x="478" y="3436">[table]</text><rect class="c" x="329" y="3448" width="157" height="24"/><text x="333" y="3463">...</text><rect class="c" x="329" y="3472" width="50" height="24"/><rect class="c" x="379" y="3472" width="65" height="24"/><rect class="c" x="444" y="3472" width="42" height="24"/><text x="333" y="3488.5">&lt; 1</text><text class="r" x="439" y="3488.5">0 rows</text><text class="r" x="481" y="3488.5">1 &gt;</text></g>
<g id="quick_filter_rules"><rect class="h" x="682" y="3452" width="194" height="30"/><text class="b" x="689" y="3470">quick_filter_rules</text><text class="r" x="868" y="3470">[table]</text><rect class="c" x="682" y="3482" width="194" height="24"/><text x="686" y="3497">...</text><rect class="c" x="682" y="3506" width="75" height="24"/><rect class="c" x="757" y="3506" width="79" height="24"/><rect class="c" x="836" y="3506" width="40" height="24"/><text x="686" y="3522.5">&lt; 2</text><text class="r" x="831" y="3522.5">0 rows</text></g>
<g id="trusted_apps"><rect class="h" x="326" y="3530" width="164" height="30"/><text class="b" x="333" y="3548">trusted_apps</text><text class="r" x="482" y="3548">[table]</text><rect class="c" x="326" y="3560" width="164" height="24"/><text x="330" y="3575">...</text><rect class="c" x="326" y="3584" width="53" height="24"/><rect class="c" x="379" y="3584" width="68" height="24"/><rect class="c" x="447" y="3584" width="43" height="24"/><text x="330" y="3600.5">&lt; 1</text><text class="r" x="442" y="3600.5">0 rows</text><text class="r" x="485" y="3600.5">2 &gt;</text></g>
<g id="user_comment"><rect class="h" x="319" y="3617" width="178" height="30"/><text class="b" x="326" y="3635">user_comment</text><text class="r" x="489" y="3635">[table]</text><rect class="c" x="319" y="3647" width="178" height="24"/><text x="323" y="3662">...</text><rect class="c" x="319" y="3671" width="67" height="24"/><rect class="c" x="386" y="3671" width="75" height="24"/><rect class="c" x="461" y="3671" width="36" height="24"/><text x="323" y="3687.5">&lt; 1</text><text class="r" x="456" y="3687.5">0 rows</text></g>
<g id="vcs_branch"><rect class="h" x="332" y="3704" width="150" height="30"/><text class="b" x="339" y="3722">vcs_branch</text><text class="r" x="474" y="3722">[table]</text><rect class="c" x="332" y="3734" width="150" height="24"/><text x="336" y="3749">...</text><rect class="c" x="332" y="3758" width="54" height="24"/><rect class="c" x="386" y="3758" width="66" height="24"/><rect class="c" x="452" y="3758" width="30" height="24"/><text x="336" y="3774.5">&lt; 2</text><text class="r" x="447" y="3774.5">0 rows</text></g>
<g id="vcs_tag"><rect class="h" x="720" y="3790" width="118" height="30"/><text class="b" x="727" y="3808">vcs_tag</text><text class="r" x="830" y="3808">[table]</text><rect class="c" x="720" y="3820" width="118" height="24"/><text x="724" y="3835">...</text><rect class="c" x="720" y="3844" width="37" height="24"/><rect class="c" x="757" y="3844" width="61" height="24"/><rect class="c" x="818" y="3844" width="20" height="24"/><text x="724" y="3860.5">&lt; 2</text><text class="r" x="813" y="3860.5">0 rows</text></g>
<g id="vcs_location"><rect class="h" x="329" y="3820" width="157" height="30"/><text class="b" x="336" y="3838">vcs_location</text><text class="r" x="478" y="3838">[table]</text><rect class="c" x="329" y="3850" width="157" height="24"/><text x="333" y="3865">...</text><rect class="c" x="329" y="3874" width="45" height="24"/><rect class="c" x="374" y="3874" width="64" height="24"/><rect class="c" x="438" y="3874" width="48" height="24"/><text x="333" y="3890.5">&lt; 2</text><text class="r" x="433" y="3890.5">0 rows</text><text class="r" x="481" y="3890.5">10 &gt;</text></g>
<g id="webhook_response"><rect class="h" x="303" y="3910" width="208" height="30"/><text class="b" x="310" y="3928">webhook_response</text><text class="r" x="503" y="3928">[table]</text><rect class="c" x="303" y="3940" width="208" height="24"/><text x="307" y="3955">...</text><rect class="c" x="303" y="3964" width="83" height="24"/><rect class="c" x="386" y="3964" width="81" height="24"/><rect class="c" x="467" y="3964" width="44" height="24"/><text x="307" y="3980.5">&lt; 2</text><text class="r" x="462" y="3980.5">0 rows</text></g>
<g id="webhook_template"><rect class="h" x="302" y="4000" width="210" height="30"/><text class="b" x="309" y="4018">webhook_template</text><text class="r" x="504" y="4018">[table]</text><rect class="c" x="302" y="4030" width="210" height="24"/><text x="306" y="4045">...</text><rect class="c" x="302" y="4054" width="84" height="24"/><rect class="c" x="386" y="4054" width="82" height="24"/><rect class="c" x="468" y="4054" width="44" height="24"/><text x="306" y="4070.5">&lt; 1</text><text class="r" x="463" y="4070.5">2 rows</text></g>

<g id="cwd_directory">
<rect class="h" x="307" y="1991" width="202" height="30"/><text class="b" x="314" y="2009">cwd_directory</text><text class="r" x="501" y="2009">[table]</text>
<rect class="c" x="307" y="2021" width="202" height="29.3"/><use xlink:href="#key" x="320" y="2029" fill="#e6dc00"/><text x="332" y="2040">id</text>
<rect class="c" x="307" y="2050.3" width="202" height="29.3"/><use xlink:href="#key" x="320" y="2058.3" fill="#bbb"/><text x="332" y="2069.3">directory_name</text>
<rect class="c" x="307" y="2079.6" width="202" height="29.3"/><use xlink:href="#key" x="320" y="2087.6" fill="#bbb"/><text x="332" y="2098.6">lower_directory_name</text>
<rect class="c" x="307" y="2108.9" width="202" height="29.3"/><text x="332" y="2127.9">active</text>
<rect class="c" x="307" y="2138.2" width="202" height="29.3"/><text x="332" y="2157.2">lower_impl_class</text>
<rect class="c" x="307" y="2167.5" width="202" height="29.3"/><text x="332" y="2186.5">directory_type</text>
<rect class="c" x="307" y="2196.8" width="202" height="24"/><text x="311" y="2211.8">...</text>
<rect class="c" x="307" y="2220.8" width="71" height="25"/><rect class="c" x="378" y="2220.8" width="70" height="25"/><rect class="c" x="448" y="2220.8" width="61" height="25"/>
<text x="311" y="2237.3">&lt; 2</text><text class="r" x="443" y="2237.3">1 row</text><text class="r" x="504" y="2237.3">12 &gt;</text>
</g>

<g id="cwd_group">
<rect class="h" x="692" y="2223" width="176" height="29.5"/><text class="b" x="699" y="2241">cwd_group</text><text class="r" x="860" y="2241">[table]</text>
<rect class="c" x="692" y="2252.5" width="176" height="29.3"/><use xlink:href="#key" x="705" y="2260.5" fill="#e6dc00"/><text x="718" y="2271.5">id</text>
<rect class="c" x="692" y="2281.8" width="176" height="29.3"/><use xlink:href="#key" x="705" y="2289.8" fill="#bbb"/><text x="718" y="2300.8">group_name</text>
<rect class="c" x="692" y="2311.1" width="176" height="29.3"/><use xlink:href="#key" x="705" y="2319.1" fill="#bbb"/><text x="718" y="2330.1">lower_group_name</text>
<rect class="c" x="692" y="2340.4" width="176" height="29.3"/><text x="718" y="2359.4">active</text>
<rect class="c" x="692" y="2369.7" width="176" height="29.3"/><use xlink:href="#key" x="705" y="2377.7" fill="#bbb"/><text x="718" y="2388.7">directory_id</text>
<rect class="c" x="692" y="2399" width="176" height="29.3"/><text x="718" y="2418">external_id</text>
<rect class="c" x="692" y="2428.3" width="176" height="24"/><text x="696" y="2443.3">...</text>
<rect class="c" x="692" y="2452.3" width="63" height="24.2"/><rect class="c" x="755" y="2452.3" width="66" height="24.2"/><rect class="c" x="821" y="2452.3" width="47" height="24.2"/>
<text x="696" y="2468.8">&lt; 3</text><text class="r" x="816" y="2468.8">1 row</text><text class="r" x="863" y="2468.8">4 &gt;</text>
</g>

<g id="cwd_group_attribute">
<rect class="h" x="987.5" y="2263" width="300.5" height="30.5"/><text class="b" x="997" y="2282">cwd_group_attribute</text><text class="r" x="1279" y="2282">[table]</text>
<rect class="c" x="987.5" y="2293.5" width="204.5" height="29.3"/><rect class="c" x="1192" y="2293.5" width="96" height="29.3"/><use xlink:href="#key" x="1002.5" y="2301.5" fill="#e6dc00"/><text x="1015" y="2312.5">id</text><text x="1196" y="2312.5">int8[19]</text>
<rect class="c" x="987.5" y="2322.8" width="204.5" height="29.3"/><rect class="c" x="1192" y="2322.8" width="96" height="29.3"/><use xlink:href="#key" x="1002.5" y="2330.8" fill="#bbb"/><text x="1015" y="2341.8">group_id</text><text x="1196" y="2341.8">int8[19]</text>
<rect class="c" x="987.5" y="2352.1" width="204.5" height="29.3"/><rect class="c" x="1192" y="2352.1" width="96" height="29.3"/><use xlink:href="#key" x="1002.5" y="2360.1" fill="#bbb"/><text x="1015" y="2371.1">directory_id</text><text x="1196" y="2371.1">int8[19]</text>
<rect class="c" x="987.5" y="2381.4" width="204.5" height="29.3"/><rect class="c" x="1192" y="2381.4" width="96" height="29.3"/><use xlink:href="#key" x="1002.5" y="2389.4" fill="#bbb"/><text x="1015" y="2400.4">attribute_name</text><text x="1196" y="2400.4">varchar[255]</text>
<rect class="c" x="987.5" y="2410.7" width="204.5" height="29.3"/><rect class="c" x="1192" y="2410.7" width="96" height="29.3"/><text x="1015" y="2429.7">attribute_value</text><text x="1196" y="2429.7">varchar[255]</text>
<rect class="c" x="987.5" y="2440" width="204.5" height="29.3"/><rect class="c" x="1192" y="2440" width="96" height="29.3"/><text x="1015" y="2459">attribute_lower_value</text><text x="1196" y="2459">varchar[255]</text>
<rect class="c" x="987.5" y="2469.3" width="89.5" height="24.7"/><rect class="c" x="1077" y="2469.3" width="115" height="24.7"/><rect class="c" x="1192" y="2469.3" width="96" height="24.7"/>
<text x="992" y="2486">&lt; 3</text><text class="r" x="1187" y="2486">0 rows</text><text class="r" x="1283" y="2486">0 &gt;</text>
<rect x="987.5" y="2263" width="300.5" height="231" fill="none" stroke="#000" stroke-width="3.5"/>
</g>

<g id="id_generator">
<rect class="h" x="17" y="2270" width="161" height="29.5"/><text class="b" x="24" y="2288">id_generator</text><text class="r" x="170" y="2288">[table]</text>
<rect class="c" x="17" y="2299.5" width="161" height="29.3"/><use xlink:href="#key" x="31" y="2307.5" fill="#e6dc00"/><text x="60" y="2318.5">name</text>
<rect class="c" x="17" y="2328.8" width="161" height="24"/><text x="21" y="2343.8">...</text>
<rect class="c" x="17" y="2352.8" width="41" height="24"/><rect class="c" x="58" y="2352.8" width="68" height="24"/><rect class="c" x="126" y="2352.8" width="52" height="24"/>
<text class="r" x="121" y="2369.3">0 rows</text><text class="r" x="173" y="2369.3">75 &gt;</text>
</g>

<text x="17" y="4070">Generated by SchemaSpy</text>
</svg>
